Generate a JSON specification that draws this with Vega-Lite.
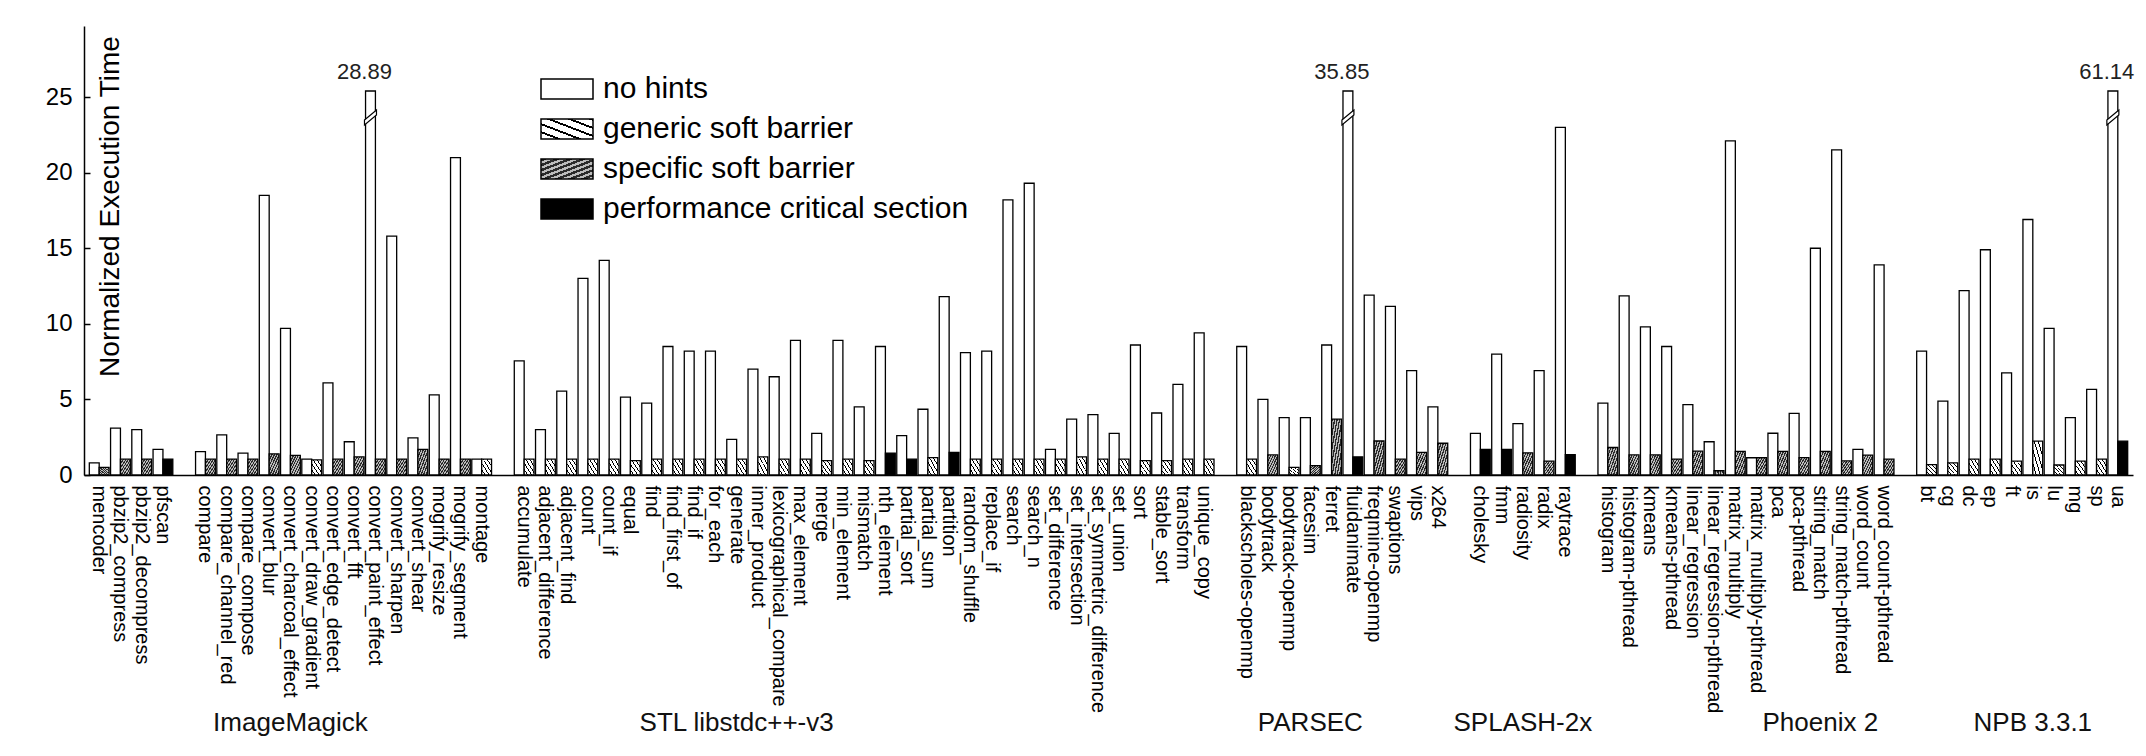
{
  "$schema": "https://vega.github.io/schema/vega-lite/v6.json",
  "width": 2049,
  "height": 449,
  "autosize": {"type": "none"},
  "padding": {"left": 84, "top": 26, "right": 13, "bottom": 281},
  "background": "white",
  "config": {"view": {"stroke": null}, "font": "Liberation Sans"},
  "datasets": {
    "bars": [
      {"b": "mencoder", "s": "no hints", "v": 0.8},
      {"b": "mencoder", "s": "specific soft barrier", "v": 0.5},
      {"b": "pbzip2_compress", "s": "no hints", "v": 3.1},
      {"b": "pbzip2_compress", "s": "specific soft barrier", "v": 1.05},
      {"b": "pbzip2_decompress", "s": "no hints", "v": 3.0},
      {"b": "pbzip2_decompress", "s": "specific soft barrier", "v": 1.05},
      {"b": "pfscan", "s": "no hints", "v": 1.7},
      {"b": "pfscan", "s": "performance critical section", "v": 1.05},
      {"b": "compare", "s": "no hints", "v": 1.55},
      {"b": "compare", "s": "specific soft barrier", "v": 1.05},
      {"b": "compare_channel_red", "s": "no hints", "v": 2.65},
      {"b": "compare_channel_red", "s": "specific soft barrier", "v": 1.05},
      {"b": "compare_compose", "s": "no hints", "v": 1.45},
      {"b": "compare_compose", "s": "specific soft barrier", "v": 1.05},
      {"b": "convert_blur", "s": "no hints", "v": 18.5},
      {"b": "convert_blur", "s": "specific soft barrier", "v": 1.4},
      {"b": "convert_charcoal_effect", "s": "no hints", "v": 9.7},
      {"b": "convert_charcoal_effect", "s": "specific soft barrier", "v": 1.3},
      {"b": "convert_draw_gradient", "s": "no hints", "v": 1.05},
      {"b": "convert_draw_gradient", "s": "generic soft barrier", "v": 1.0},
      {"b": "convert_edge_detect", "s": "no hints", "v": 6.1},
      {"b": "convert_edge_detect", "s": "specific soft barrier", "v": 1.05},
      {"b": "convert_fft", "s": "no hints", "v": 2.2},
      {"b": "convert_fft", "s": "specific soft barrier", "v": 1.2},
      {"b": "convert_paint_effect", "s": "no hints", "v": 28.89},
      {"b": "convert_paint_effect", "s": "specific soft barrier", "v": 1.05},
      {"b": "convert_sharpen", "s": "no hints", "v": 15.8},
      {"b": "convert_sharpen", "s": "specific soft barrier", "v": 1.05},
      {"b": "convert_shear", "s": "no hints", "v": 2.45},
      {"b": "convert_shear", "s": "specific soft barrier", "v": 1.7},
      {"b": "mogrify_resize", "s": "no hints", "v": 5.3},
      {"b": "mogrify_resize", "s": "specific soft barrier", "v": 1.05},
      {"b": "mogrify_segment", "s": "no hints", "v": 21.0},
      {"b": "mogrify_segment", "s": "specific soft barrier", "v": 1.05},
      {"b": "montage", "s": "no hints", "v": 1.05},
      {"b": "montage", "s": "generic soft barrier", "v": 1.05},
      {"b": "accumulate", "s": "no hints", "v": 7.55},
      {"b": "accumulate", "s": "generic soft barrier", "v": 1.05},
      {"b": "adjacent_difference", "s": "no hints", "v": 3.0},
      {"b": "adjacent_difference", "s": "generic soft barrier", "v": 1.05},
      {"b": "adjacent_find", "s": "no hints", "v": 5.55},
      {"b": "adjacent_find", "s": "generic soft barrier", "v": 1.05},
      {"b": "count", "s": "no hints", "v": 13.0},
      {"b": "count", "s": "generic soft barrier", "v": 1.05},
      {"b": "count_if", "s": "no hints", "v": 14.2},
      {"b": "count_if", "s": "generic soft barrier", "v": 1.05},
      {"b": "equal", "s": "no hints", "v": 5.15},
      {"b": "equal", "s": "generic soft barrier", "v": 0.95},
      {"b": "find", "s": "no hints", "v": 4.75},
      {"b": "find", "s": "generic soft barrier", "v": 1.05},
      {"b": "find_first_of", "s": "no hints", "v": 8.5},
      {"b": "find_first_of", "s": "generic soft barrier", "v": 1.05},
      {"b": "find_if", "s": "no hints", "v": 8.2},
      {"b": "find_if", "s": "generic soft barrier", "v": 1.05},
      {"b": "for_each", "s": "no hints", "v": 8.2},
      {"b": "for_each", "s": "generic soft barrier", "v": 1.05},
      {"b": "generate", "s": "no hints", "v": 2.35},
      {"b": "generate", "s": "generic soft barrier", "v": 1.05},
      {"b": "inner_product", "s": "no hints", "v": 7.0},
      {"b": "inner_product", "s": "generic soft barrier", "v": 1.2},
      {"b": "lexicographical_compare", "s": "no hints", "v": 6.5},
      {"b": "lexicographical_compare", "s": "generic soft barrier", "v": 1.05},
      {"b": "max_element", "s": "no hints", "v": 8.9},
      {"b": "max_element", "s": "generic soft barrier", "v": 1.05},
      {"b": "merge", "s": "no hints", "v": 2.75},
      {"b": "merge", "s": "generic soft barrier", "v": 0.95},
      {"b": "min_element", "s": "no hints", "v": 8.9},
      {"b": "min_element", "s": "generic soft barrier", "v": 1.05},
      {"b": "mismatch", "s": "no hints", "v": 4.5},
      {"b": "mismatch", "s": "generic soft barrier", "v": 0.95},
      {"b": "nth_element", "s": "no hints", "v": 8.5},
      {"b": "nth_element", "s": "performance critical section", "v": 1.45},
      {"b": "partial_sort", "s": "no hints", "v": 2.6},
      {"b": "partial_sort", "s": "performance critical section", "v": 1.05},
      {"b": "partial_sum", "s": "no hints", "v": 4.35},
      {"b": "partial_sum", "s": "generic soft barrier", "v": 1.15},
      {"b": "partition", "s": "no hints", "v": 11.8},
      {"b": "partition", "s": "performance critical section", "v": 1.5},
      {"b": "random_shuffle", "s": "no hints", "v": 8.1},
      {"b": "random_shuffle", "s": "generic soft barrier", "v": 1.05},
      {"b": "replace_if", "s": "no hints", "v": 8.2},
      {"b": "replace_if", "s": "generic soft barrier", "v": 1.05},
      {"b": "search", "s": "no hints", "v": 18.2},
      {"b": "search", "s": "generic soft barrier", "v": 1.05},
      {"b": "search_n", "s": "no hints", "v": 19.3},
      {"b": "search_n", "s": "generic soft barrier", "v": 1.05},
      {"b": "set_difference", "s": "no hints", "v": 1.7},
      {"b": "set_difference", "s": "generic soft barrier", "v": 1.05},
      {"b": "set_intersection", "s": "no hints", "v": 3.7},
      {"b": "set_intersection", "s": "generic soft barrier", "v": 1.2},
      {"b": "set_symmetric_difference", "s": "no hints", "v": 4.0},
      {"b": "set_symmetric_difference", "s": "generic soft barrier", "v": 1.05},
      {"b": "set_union", "s": "no hints", "v": 2.75},
      {"b": "set_union", "s": "generic soft barrier", "v": 1.05},
      {"b": "sort", "s": "no hints", "v": 8.6},
      {"b": "sort", "s": "generic soft barrier", "v": 0.95},
      {"b": "stable_sort", "s": "no hints", "v": 4.1},
      {"b": "stable_sort", "s": "generic soft barrier", "v": 0.95},
      {"b": "transform", "s": "no hints", "v": 6.0},
      {"b": "transform", "s": "generic soft barrier", "v": 1.05},
      {"b": "unique_copy", "s": "no hints", "v": 9.4},
      {"b": "unique_copy", "s": "generic soft barrier", "v": 1.05},
      {"b": "blackscholes-openmp", "s": "no hints", "v": 8.5},
      {"b": "blackscholes-openmp", "s": "generic soft barrier", "v": 1.05},
      {"b": "bodytrack", "s": "no hints", "v": 5.0},
      {"b": "bodytrack", "s": "specific soft barrier", "v": 1.33},
      {"b": "bodytrack-openmp", "s": "no hints", "v": 3.8},
      {"b": "bodytrack-openmp", "s": "generic soft barrier", "v": 0.5},
      {"b": "facesim", "s": "no hints", "v": 3.8},
      {"b": "facesim", "s": "specific soft barrier", "v": 0.62},
      {"b": "ferret", "s": "no hints", "v": 8.6},
      {"b": "ferret", "s": "specific soft barrier", "v": 3.7},
      {"b": "fluidanimate", "s": "no hints", "v": 35.85},
      {"b": "fluidanimate", "s": "performance critical section", "v": 1.2},
      {"b": "freqmine-openmp", "s": "no hints", "v": 11.9},
      {"b": "freqmine-openmp", "s": "specific soft barrier", "v": 2.25},
      {"b": "swaptions", "s": "no hints", "v": 11.15},
      {"b": "swaptions", "s": "specific soft barrier", "v": 1.05},
      {"b": "vips", "s": "no hints", "v": 6.9},
      {"b": "vips", "s": "specific soft barrier", "v": 1.5},
      {"b": "x264", "s": "no hints", "v": 4.5},
      {"b": "x264", "s": "specific soft barrier", "v": 2.1},
      {"b": "cholesky", "s": "no hints", "v": 2.75},
      {"b": "cholesky", "s": "performance critical section", "v": 1.7},
      {"b": "fmm", "s": "no hints", "v": 8.0},
      {"b": "fmm", "s": "performance critical section", "v": 1.7},
      {"b": "radiosity", "s": "no hints", "v": 3.4},
      {"b": "radiosity", "s": "specific soft barrier", "v": 1.47},
      {"b": "radix", "s": "no hints", "v": 6.9},
      {"b": "radix", "s": "specific soft barrier", "v": 0.92},
      {"b": "raytrace", "s": "no hints", "v": 23.0},
      {"b": "raytrace", "s": "performance critical section", "v": 1.35},
      {"b": "histogram", "s": "no hints", "v": 4.75},
      {"b": "histogram", "s": "specific soft barrier", "v": 1.82},
      {"b": "histogram-pthread", "s": "no hints", "v": 11.85},
      {"b": "histogram-pthread", "s": "specific soft barrier", "v": 1.33},
      {"b": "kmeans", "s": "no hints", "v": 9.8},
      {"b": "kmeans", "s": "specific soft barrier", "v": 1.33},
      {"b": "kmeans-pthread", "s": "no hints", "v": 8.5},
      {"b": "kmeans-pthread", "s": "specific soft barrier", "v": 1.05},
      {"b": "linear_regression", "s": "no hints", "v": 4.65},
      {"b": "linear_regression", "s": "specific soft barrier", "v": 1.58},
      {"b": "linear_regression-pthread", "s": "no hints", "v": 2.2},
      {"b": "linear_regression-pthread", "s": "specific soft barrier", "v": 0.28},
      {"b": "matrix_multiply", "s": "no hints", "v": 22.1},
      {"b": "matrix_multiply", "s": "specific soft barrier", "v": 1.56},
      {"b": "matrix_multiply-pthread", "s": "no hints", "v": 1.14},
      {"b": "matrix_multiply-pthread", "s": "specific soft barrier", "v": 1.14},
      {"b": "pca", "s": "no hints", "v": 2.76},
      {"b": "pca", "s": "specific soft barrier", "v": 1.56},
      {"b": "pca-pthread", "s": "no hints", "v": 4.08},
      {"b": "pca-pthread", "s": "specific soft barrier", "v": 1.15},
      {"b": "string_match", "s": "no hints", "v": 15.0},
      {"b": "string_match", "s": "specific soft barrier", "v": 1.56},
      {"b": "string_match-pthread", "s": "no hints", "v": 21.5},
      {"b": "string_match-pthread", "s": "specific soft barrier", "v": 0.93},
      {"b": "word_count", "s": "no hints", "v": 1.7},
      {"b": "word_count", "s": "specific soft barrier", "v": 1.32},
      {"b": "word_count-pthread", "s": "no hints", "v": 13.9},
      {"b": "word_count-pthread", "s": "specific soft barrier", "v": 1.05},
      {"b": "bt", "s": "no hints", "v": 8.2},
      {"b": "bt", "s": "generic soft barrier", "v": 0.68},
      {"b": "cg", "s": "no hints", "v": 4.88},
      {"b": "cg", "s": "generic soft barrier", "v": 0.8},
      {"b": "dc", "s": "no hints", "v": 12.2},
      {"b": "dc", "s": "generic soft barrier", "v": 1.05},
      {"b": "ep", "s": "no hints", "v": 14.9},
      {"b": "ep", "s": "generic soft barrier", "v": 1.05},
      {"b": "ft", "s": "no hints", "v": 6.75},
      {"b": "ft", "s": "generic soft barrier", "v": 0.92},
      {"b": "is", "s": "no hints", "v": 16.9},
      {"b": "is", "s": "generic soft barrier", "v": 2.24},
      {"b": "lu", "s": "no hints", "v": 9.7},
      {"b": "lu", "s": "generic soft barrier", "v": 0.66},
      {"b": "mg", "s": "no hints", "v": 3.8},
      {"b": "mg", "s": "generic soft barrier", "v": 0.92},
      {"b": "sp", "s": "no hints", "v": 5.66},
      {"b": "sp", "s": "generic soft barrier", "v": 1.05},
      {"b": "ua", "s": "no hints", "v": 61.14},
      {"b": "ua", "s": "performance critical section", "v": 2.24}
    ],
    "groups": [
      {"b": "convert_charcoal_effect", "g": "ImageMagick"},
      {"b": "generate", "g": "STL libstdc++-v3"},
      {"b": "facesim", "g": "PARSEC"},
      {"b": "radiosity", "g": "SPLASH-2x"},
      {"b": "string_match", "g": "Phoenix 2"},
      {"b": "is", "g": "NPB 3.3.1"}
    ]
  },
  "layer": [
    {
      "data": {"name": "bars"},
      "transform": [
        {"calculate": "datum.s == 'no hints' ? 0 : 1", "as": "pos"},
        {"calculate": "min(datum.v, 25.4)", "as": "h"}
      ],
      "mark": {"type": "bar", "stroke": "black", "strokeWidth": 1.3},
      "encoding": {
        "x": {
          "field": "b", "type": "nominal", "title": null,
          "scale": {
            "domain": ["mencoder", "pbzip2_compress", "pbzip2_decompress", "pfscan", "gap1",
              "compare", "compare_channel_red", "compare_compose", "convert_blur", "convert_charcoal_effect", "convert_draw_gradient", "convert_edge_detect", "convert_fft", "convert_paint_effect", "convert_sharpen", "convert_shear", "mogrify_resize", "mogrify_segment", "montage", "gap2",
              "accumulate", "adjacent_difference", "adjacent_find", "count", "count_if", "equal", "find", "find_first_of", "find_if", "for_each", "generate", "inner_product", "lexicographical_compare", "max_element", "merge", "min_element", "mismatch", "nth_element", "partial_sort", "partial_sum", "partition", "random_shuffle", "replace_if", "search", "search_n", "set_difference", "set_intersection", "set_symmetric_difference", "set_union", "sort", "stable_sort", "transform", "unique_copy", "gap3",
              "blackscholes-openmp", "bodytrack", "bodytrack-openmp", "facesim", "ferret", "fluidanimate", "freqmine-openmp", "swaptions", "vips", "x264", "gap4",
              "cholesky", "fmm", "radiosity", "radix", "raytrace", "gap5",
              "histogram", "histogram-pthread", "kmeans", "kmeans-pthread", "linear_regression", "linear_regression-pthread", "matrix_multiply", "matrix_multiply-pthread", "pca", "pca-pthread", "string_match", "string_match-pthread", "word_count", "word_count-pthread", "gap6",
              "bt", "cg", "dc", "ep", "ft", "is", "lu", "mg", "sp", "ua"],
            "paddingInner": 0.07,
            "paddingOuter": 0.25
          },
          "axis": {
            "domainColor": "black", "domainWidth": 1.5, "ticks": false,
            "labelAngle": 90, "labelAlign": "left", "labelBaseline": "middle",
            "labelPadding": 10, "labelFontSize": 20, "labelColor": "black", "labelFont": "Liberation Sans",
            "labelLimit": 0, "labelOverlap": false, "labelBound": false,
            "labelExpr": "slice(datum.value, 0, 3) == 'gap' ? '' : datum.value"
          }
        },
        "xOffset": {"field": "pos", "type": "nominal", "scale": {"paddingInner": 0, "paddingOuter": 0}},
        "y": {
          "field": "h", "type": "quantitative", "title": "Normalized Execution Time",
          "scale": {"domain": [0, 29.7], "nice": false, "clamp": true},
          "axis": {
            "domainColor": "black", "domainWidth": 1.5, "tickColor": "black", "tickWidth": 1.5,
            "tickSize": -6, "labelPadding": 18, "labelFontSize": 24, "labelColor": "black", "labelFont": "Liberation Sans",
            "grid": false, "values": [0, 5, 10, 15, 20, 25],
            "titleX": 34, "titleY": 180, "titleAngle": 270, "titleAlign": "center", "titleBaseline": "alphabetic",
            "titleFontSize": 28, "titleFontWeight": "normal", "titleColor": "black", "titleFont": "Liberation Sans"
          }
        },
        "fill": {
          "field": "s", "type": "nominal",
          "scale": {
            "domain": ["no hints", "generic soft barrier", "specific soft barrier", "performance critical section"],
            "range": [
              "#ffffff",
              {"expr": "{gradient: 'linear', x1: 0, y1: 1, x2: 1, y2: 0, stops: [{offset: 0, color: '#ffffff'}, {offset: 0.15, color: '#ffffff'}, {offset: 0.15, color: '#000000'}, {offset: 0.2, color: '#000000'}, {offset: 0.2, color: '#ffffff'}, {offset: 0.35, color: '#ffffff'}, {offset: 0.35, color: '#000000'}, {offset: 0.4, color: '#000000'}, {offset: 0.4, color: '#ffffff'}, {offset: 0.55, color: '#ffffff'}, {offset: 0.55, color: '#000000'}, {offset: 0.6, color: '#000000'}, {offset: 0.6, color: '#ffffff'}, {offset: 0.75, color: '#ffffff'}, {offset: 0.75, color: '#000000'}, {offset: 0.8, color: '#000000'}, {offset: 0.8, color: '#ffffff'}, {offset: 0.95, color: '#ffffff'}, {offset: 0.95, color: '#000000'}, {offset: 1, color: '#000000'}]}"},
              {"expr": "{gradient: 'linear', x1: 0, y1: 0, x2: 1, y2: 1, stops: [{offset: 0, color: '#2a2a2a'}, {offset: 0.0625, color: '#2a2a2a'}, {offset: 0.0625, color: '#bbbbbb'}, {offset: 0.125, color: '#bbbbbb'}, {offset: 0.125, color: '#2a2a2a'}, {offset: 0.1875, color: '#2a2a2a'}, {offset: 0.1875, color: '#bbbbbb'}, {offset: 0.25, color: '#bbbbbb'}, {offset: 0.25, color: '#2a2a2a'}, {offset: 0.3125, color: '#2a2a2a'}, {offset: 0.3125, color: '#bbbbbb'}, {offset: 0.375, color: '#bbbbbb'}, {offset: 0.375, color: '#2a2a2a'}, {offset: 0.4375, color: '#2a2a2a'}, {offset: 0.4375, color: '#bbbbbb'}, {offset: 0.5, color: '#bbbbbb'}, {offset: 0.5, color: '#2a2a2a'}, {offset: 0.5625, color: '#2a2a2a'}, {offset: 0.5625, color: '#bbbbbb'}, {offset: 0.625, color: '#bbbbbb'}, {offset: 0.625, color: '#2a2a2a'}, {offset: 0.6875, color: '#2a2a2a'}, {offset: 0.6875, color: '#bbbbbb'}, {offset: 0.75, color: '#bbbbbb'}, {offset: 0.75, color: '#2a2a2a'}, {offset: 0.8125, color: '#2a2a2a'}, {offset: 0.8125, color: '#bbbbbb'}, {offset: 0.875, color: '#bbbbbb'}, {offset: 0.875, color: '#2a2a2a'}, {offset: 0.9375, color: '#2a2a2a'}, {offset: 0.9375, color: '#bbbbbb'}, {offset: 1, color: '#bbbbbb'}]}"},
              "#000000"
            ]
          },
          "legend": {
            "orient": "none", "legendX": 468, "legendY": 48, "title": null, "padding": 0,
            "symbolType": "M-2.6,-1H2.6V1H-2.6Z", "symbolSize": 400,
            "symbolStrokeColor": "black", "symbolStrokeWidth": 1.5, "symbolOpacity": 1,
            "labelFontSize": 30, "labelFont": "Liberation Sans", "labelColor": "black",
            "labelOffset": 21, "rowPadding": 10, "labelLimit": 0
          }
        }
      }
    },
    {
      "data": {"name": "bars"},
      "transform": [
        {"filter": "datum.s == 'no hints' && datum.v > 25.4"},
        {"calculate": "min(datum.v, 25.4)", "as": "h"},
        {"calculate": "0", "as": "pos"}
      ],
      "mark": {"type": "point", "shape": "M-0.6,2.9L0.6,1.9L0.6,2.4L-0.6,3.4Z", "size": 400, "filled": true, "fill": "white", "stroke": "black", "strokeWidth": 1.2, "opacity": 1, "fillOpacity": 1},
      "encoding": {
        "x": {"field": "b", "type": "nominal", "title": null},
        "xOffset": {"field": "pos", "type": "nominal"},
        "y": {"field": "h", "type": "quantitative", "title": "Normalized Execution Time"}
      }
    },
    {
      "data": {"name": "bars"},
      "transform": [
        {"filter": "datum.s == 'no hints' && datum.v > 25.4"},
        {"calculate": "min(datum.v, 25.4)", "as": "h"}
      ],
      "mark": {"type": "text", "dy": -7, "dx": -11, "baseline": "bottom", "fontSize": 22, "font": "Liberation Sans", "color": "#222222"},
      "encoding": {
        "x": {"field": "b", "type": "nominal", "title": null},
        "y": {"field": "h", "type": "quantitative", "title": "Normalized Execution Time"},
        "text": {"field": "v", "type": "quantitative", "format": ".2f"}
      }
    },
    {
      "data": {"name": "groups"},
      "mark": {"type": "text", "dy": 248, "baseline": "middle", "fontSize": 26, "font": "Liberation Sans", "color": "#111111"},
      "encoding": {
        "x": {"field": "b", "type": "nominal", "title": null},
        "y": {"datum": 0, "type": "quantitative", "title": "Normalized Execution Time"},
        "text": {"field": "g", "type": "nominal"}
      }
    }
  ]
}
